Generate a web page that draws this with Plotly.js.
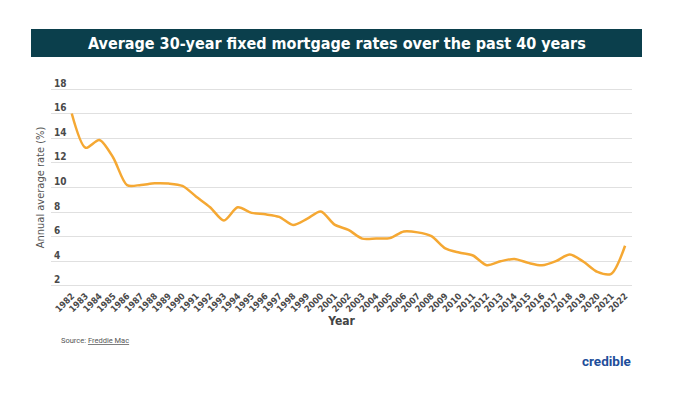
<!DOCTYPE html>
<html>
<head>
<meta charset="utf-8">
<script src="https://cdn.plot.ly/plotly-3.0.1.min.js"></script>
<style>html,body{margin:0;padding:0;background:#fff;}#chart{width:682px;height:398px;}</style>
</head>
<body>
<div id="chart"></div>
<script>
const years = [1982,1983,1984,1985,1986,1987,1988,1989,1990,1991,1992,1993,1994,1995,1996,1997,1998,1999,2000,2001,2002,2003,2004,2005,2006,2007,2008,2009,2010,2011,2012,2013,2014,2015,2016,2017,2018,2019,2020,2021,2022];
const rates = [16.04,13.24,13.88,12.43,10.19,10.21,10.34,10.32,10.13,9.25,8.39,7.31,8.38,7.93,7.81,7.60,6.94,7.44,8.05,6.97,6.54,5.83,5.84,5.87,6.41,6.34,6.03,5.04,4.69,4.45,3.66,3.98,4.17,3.85,3.65,3.99,4.54,3.94,3.11,2.96,5.25];
const yTicks = [2,4,6,8,10,12,14,16,18];
const xTickText = years.map(String);

const titleText = 'Average 30-year fixed mortgage rates over the past 40 years';
const sourceText = 'Source: <u>Freddie Mac</u>';
const logoText = 'credible';

const narrow = '"DejaVu Sans Condensed", Roboto, sans-serif';

// plot area in px: left 51, right 632, top 87, bottom 288
const L = 51, R = 632, T = 87, B = 288;
const px = (x) => (x - L) / (R - L);
const py = (y) => (B - y) / (B - T);

const trace = {
  x: years, y: rates, type: 'scatter', mode: 'lines',
  line: {color: '#F5A833', width: 2.5, shape: 'spline', smoothing: 0.8},
  hoverinfo: 'skip'
};

const layout = {
  width: 682, height: 398,
  margin: {l: L, r: 682 - R, t: T, b: 398 - B},
  paper_bgcolor: '#fff', plot_bgcolor: '#fff',
  showlegend: false,
  xaxis: {
    range: [1980.5, 2022.5],
    tickvals: years, ticktext: xTickText,
    tickangle: -45,
    tickfont: {family: narrow, size: 9, color: '#4a4a4a', weight: 'bold'},
    showgrid: false, zeroline: false, showline: false, ticks: '',
    title: {text: 'Year', font: {family: narrow, size: 12, color: '#444', weight: 'bold'}, standoff: 0},
    automargin: false, fixedrange: true
  },
  yaxis: {
    range: [1.8, 18.2],
    tickvals: yTicks,
    ticklabelposition: 'inside',
    ticklabeloverflow: 'allow',
    ticklabelshift: -6,
    tickfont: {family: narrow, size: 10, color: '#4a4a4a', weight: 'bold'},
    showgrid: true, gridcolor: '#e0e0e0', gridwidth: 1,
    zeroline: false, showline: false, ticks: '',
    title: {text: 'Annual average rate (%)', font: {family: narrow, size: 11, color: '#555'}, standoff: 7},
    automargin: false, fixedrange: true
  },
  shapes: [{
    type: 'rect', xref: 'paper', yref: 'paper',
    x0: px(31), x1: px(642), y0: py(57), y1: py(29),
    fillcolor: '#0B3F4C', line: {width: 0}, layer: 'below'
  }],
  annotations: [
    {text: titleText, xref: 'paper', yref: 'paper', x: px(337), y: py(43),
     showarrow: false, xanchor: 'center', yanchor: 'middle',
     font: {family: narrow, size: 16, color: '#fff', weight: 'bold'}},
    {text: sourceText, xref: 'paper', yref: 'paper', x: px(61), y: py(340),
     showarrow: false, xanchor: 'left', yanchor: 'middle', xshift: -2,
     font: {family: 'Roboto, sans-serif', size: 7.5, color: '#555'}},
    {text: logoText, xref: 'paper', yref: 'paper', x: px(631), y: py(361),
     showarrow: false, xanchor: 'right', yanchor: 'middle', xshift: 2,
     font: {family: 'Roboto, sans-serif', size: 13.5, color: '#1E4E9A', weight: 'bold'}}
  ]
};

Plotly.newPlot('chart', [trace], layout, {displayModeBar: false, staticPlot: true});
</script>
</body>
</html>
